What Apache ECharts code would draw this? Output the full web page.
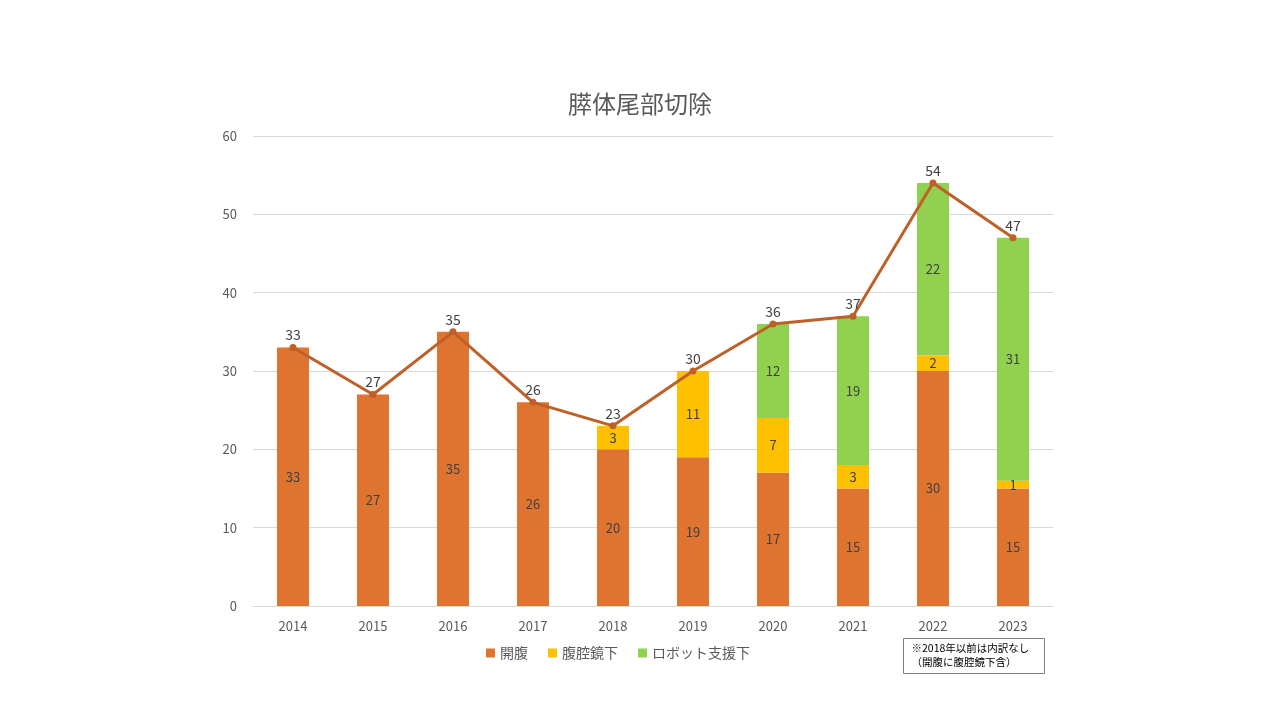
<!DOCTYPE html>
<html><head><meta charset="utf-8">
<script src="https://cdn.jsdelivr.net/npm/echarts@6/dist/echarts.min.js"></script>
<style>html,body{margin:0;padding:0;background:#fff;}#c{width:1280px;height:720px;}</style>
</head><body><div id="c"></div>
<script>
const categories = ['2014','2015','2016','2017','2018','2019','2020','2021','2022','2023'];
const openSurgery = [33,27,35,26,20,19,17,15,30,15];
const laparoscopic = [null,null,null,null,3,11,7,3,2,1];
const robotic = [null,null,null,null,null,null,12,19,22,31];
const totals = [33,27,35,26,23,30,36,37,54,47];
const seriesNames = ['開腹','腹腔鏡下','ロボット支援下'];
const titleText = '膵体尾部切除';
const noteText = '※2018年以前は内訳なし\n（開腹に腹腔鏡下含）';

const font = '"Noto Sans CJK JP", "Noto Sans", sans-serif';
const chart = echarts.init(document.getElementById('c'));
const barLabel = {show:true, position:'inside', color:'#404040', fontSize:13, fontFamily:font};
chart.setOption({
  animation:false,
  textStyle:{fontFamily:font},
  title:{text:titleText, left:'center', top:87, textStyle:{fontSize:24, fontWeight:'normal', color:'#595959', fontFamily:font}},
  grid:{left:253, right:227, top:136, bottom:114, containLabel:false},
  legend:{data:seriesNames, bottom:55, left:481, itemWidth:9, itemHeight:9, itemGap:20, icon:'rect',
    textStyle:{fontSize:14, color:'#595959', fontFamily:font}},
  xAxis:{type:'category', data:categories,
    axisLine:{lineStyle:{color:'#D9D9D9'}}, axisTick:{show:false},
    axisLabel:{color:'#595959', fontSize:13, margin:14, fontFamily:font}},
  yAxis:{type:'value', min:0, max:60, interval:10,
    axisLine:{show:false}, axisTick:{show:false},
    splitLine:{lineStyle:{color:'#D9D9D9'}},
    axisLabel:{color:'#595959', fontSize:13, margin:16, fontFamily:font}},
  series:[
    {name:seriesNames[0], type:'bar', stack:'s', data:openSurgery, barWidth:32, itemStyle:{color:'#DE7430'}, label:barLabel},
    {name:seriesNames[1], type:'bar', stack:'s', data:laparoscopic, barWidth:32, itemStyle:{color:'#FFC000'}, label:barLabel},
    {name:seriesNames[2], type:'bar', stack:'s', data:robotic, barWidth:32, itemStyle:{color:'#92D050'}, label:barLabel},
    {name:'合計', type:'line', data:totals, symbol:'circle', symbolSize:7,
      lineStyle:{color:'#BE6128', width:3}, itemStyle:{color:'#BE6128'},
      label:{show:true, position:'top', distance:2, color:'#404040', fontSize:14, fontFamily:font}, z:5}
  ],
  graphic:[
    {type:'group', left:903, top:638, children:[
      {type:'rect', shape:{x:0,y:0,width:141,height:35}, style:{fill:'#fff', stroke:'#7F7F7F', lineWidth:1}},
      {type:'text', x:8, y:3, style:{text:noteText, fontSize:10.5, lineHeight:14, fill:'#000', fontFamily:font}}
    ]}
  ]
});
</script></body></html>
